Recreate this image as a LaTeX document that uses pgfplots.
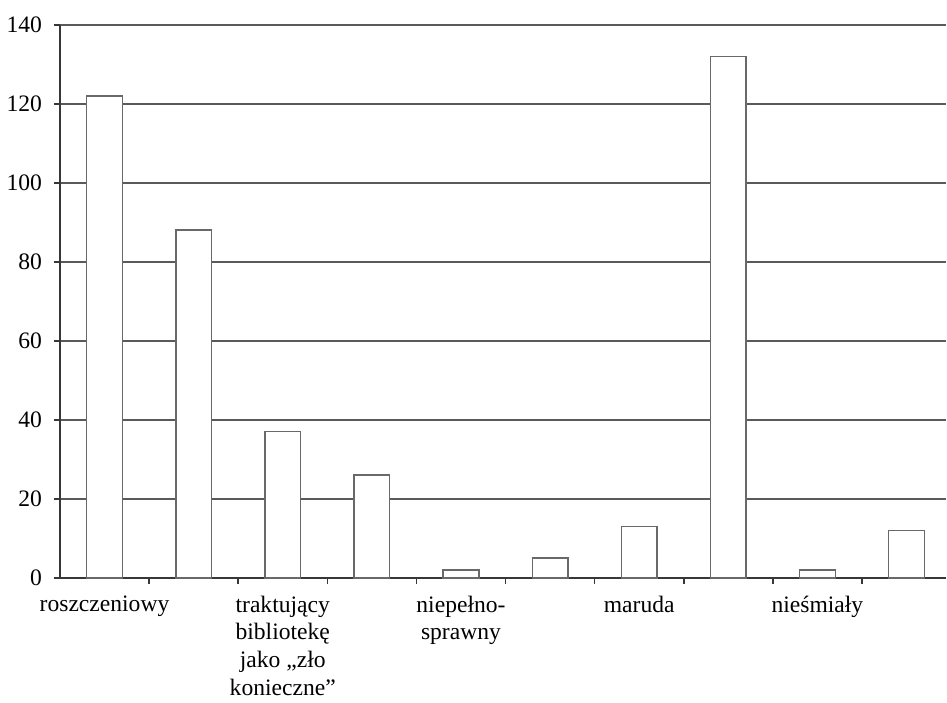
\documentclass[border=0pt]{standalone}
\usepackage{fontspec}
\setmainfont{Liberation Serif}
\usepackage{pgfplots}
\pgfplotsset{compat=1.18}

\definecolor{gridgray}{RGB}{90,90,90}
\definecolor{bargray}{RGB}{105,105,105}
\definecolor{axisgray}{RGB}{55,55,55}

\begin{document}
\begin{tikzpicture}
\begin{axis}[
  name=ax,
  scale only axis,
  width=445.5pt, height=278pt,
  xmin=0.5, xmax=10.444,
  ymin=0, ymax=140,
  axis lines=left,
  axis line style={-, axisgray, line width=0.9pt},
  tick align=outside,
  major tick length=3pt,
  tick style={axisgray, line width=0.8pt},
  ytick={0,20,...,140},
  ymajorgrids,
  grid style={gridgray, line width=0.9pt},
  xtick={1.5,2.5,...,9.5},
  xticklabels={},
  extra x ticks={1,3,5,7,9},
  extra x tick labels={roszczeniowy,
    {traktujący\\[1.5pt]bibliotekę\\[1.5pt]jako „zło\\[1.5pt]konieczne”},
    {niepełno-\\[1.5pt]sprawny},
    maruda,
    nieśmiały},
  extra x tick style={major tick length=0pt,
    tick label style={yshift=-5.5pt}},
  tick label style={font=\fontsize{11.85}{12.5}\selectfont},
  x tick label style={align=center},
  y tick label style={xshift=-2.5pt},
  /pgf/number format/assume math mode=true,
  clip=false,
]
\addplot[ybar, bar width=0.4, fill=white, draw=bargray, line width=0.75pt]
  coordinates {
    (1,122) (2,88) (3,37) (4,26) (5,2)
    (6,5) (7,13) (8,132) (9,2) (10,12)
  };
\end{axis}
\path ([xshift=-28pt,yshift=-56pt]ax.south west) rectangle ([yshift=12.5pt]ax.north east);
\end{tikzpicture}
\end{document}
